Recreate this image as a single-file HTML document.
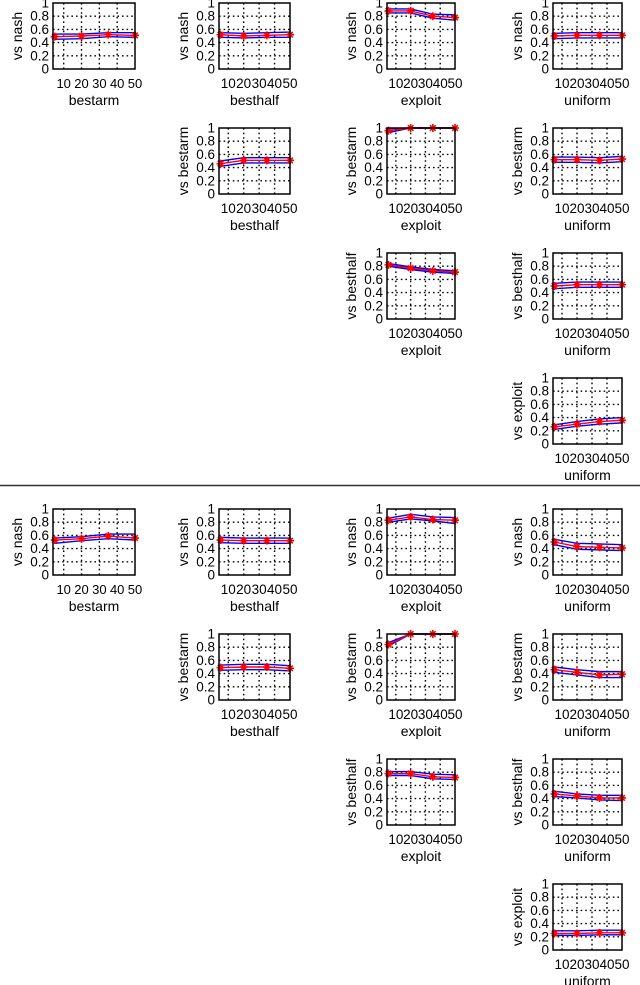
<!DOCTYPE html>
<html><head><meta charset="utf-8"><style>
html,body{margin:0;padding:0;background:#fff;}
svg{display:block;font-family:"Liberation Sans",sans-serif;}
</style></head><body>
<svg id="fig" width="640" height="985" viewBox="0 0 640 985">
<line x1="0" y1="485.5" x2="640" y2="485.5" stroke="#333" stroke-width="1.5"/>
</svg>
<script>
const xValues = [5, 20, 35, 50];
const xTicks = [10, 20, 30, 40, 50];
const yTicks = [0, 0.2, 0.4, 0.6, 0.8, 1];
const yTickLabels = ["0", "0.2", "0.4", "0.6", "0.8", "1"];
const opponents = ["nash", "bestarm", "besthalf", "exploit"];
const strategies = ["bestarm", "besthalf", "exploit", "uniform"];
const panelGroup = [0,0,0,0,0,0,0,0,0,0, 1,1,1,1,1,1,1,1,1,1];
const panelRow =   [0,0,0,0,1,1,1,2,2,3, 0,0,0,0,1,1,1,2,2,3];
const panelCol =   [0,1,2,3,1,2,3,2,3,3, 0,1,2,3,1,2,3,2,3,3];
const meanValues = [
 [0.49,0.50,0.52,0.51],[0.52,0.50,0.51,0.52],[0.88,0.88,0.80,0.78],[0.50,0.51,0.51,0.51],
 [0.46,0.51,0.51,0.51],[0.96,1,1,1],[0.52,0.52,0.51,0.53],
 [0.82,0.77,0.73,0.71],[0.50,0.52,0.52,0.52],[0.26,0.30,0.34,0.36],
 [0.53,0.55,0.59,0.56],[0.53,0.52,0.52,0.52],[0.83,0.88,0.84,0.83],[0.50,0.43,0.42,0.41],
 [0.49,0.50,0.50,0.48],[0.84,1,1,1],[0.46,0.42,0.38,0.39],
 [0.78,0.78,0.73,0.72],[0.47,0.44,0.41,0.41],[0.25,0.25,0.26,0.26]];
const upperValues = [
 [0.53,0.53,0.55,0.55],[0.55,0.54,0.55,0.56],[0.91,0.91,0.83,0.82],[0.54,0.55,0.55,0.55],
 [0.50,0.55,0.55,0.55],[0.99,1,1,1],[0.56,0.56,0.55,0.57],
 [0.84,0.79,0.75,0.73],[0.54,0.56,0.56,0.56],[0.29,0.34,0.38,0.40],
 [0.56,0.58,0.62,0.62],[0.57,0.56,0.56,0.56],[0.86,0.92,0.88,0.87],[0.54,0.48,0.47,0.46],
 [0.53,0.54,0.54,0.52],[0.87,1,1,1],[0.50,0.46,0.43,0.43],
 [0.81,0.81,0.77,0.76],[0.51,0.47,0.45,0.45],[0.29,0.29,0.30,0.30]];
const lowerValues = [
 [0.45,0.46,0.49,0.48],[0.48,0.47,0.48,0.48],[0.85,0.85,0.77,0.74],[0.46,0.47,0.47,0.47],
 [0.42,0.47,0.47,0.47],[0.93,1,1,1],[0.48,0.48,0.47,0.49],
 [0.80,0.75,0.71,0.69],[0.46,0.48,0.48,0.48],[0.22,0.27,0.30,0.32],
 [0.48,0.52,0.55,0.53],[0.49,0.48,0.48,0.48],[0.80,0.85,0.82,0.78],[0.46,0.39,0.38,0.37],
 [0.45,0.46,0.46,0.44],[0.82,1,1,1],[0.42,0.38,0.34,0.34],
 [0.75,0.75,0.70,0.69],[0.43,0.41,0.38,0.37],[0.22,0.22,0.23,0.23]];

const NS = "http://www.w3.org/2000/svg";
const svg = document.getElementById("fig");
const colLeft = [53, 219, 387, 553];
const colRight = [135, 290, 455, 622];
const rowTop = [3, 128, 253, 378];
const groupOffset = [0, 506];
const boxH = 66;
const xMin = 4, xMax = 50;

function mk(tag, attrs, parent) {
  const e = document.createElementNS(NS, tag);
  for (const k in attrs) e.setAttribute(k, attrs[k]);
  (parent || svg).appendChild(e);
  return e;
}

for (let i = 0; i < meanValues.length; i++) {
  const L = colLeft[panelCol[i]], R = colRight[panelCol[i]];
  const T = rowTop[panelRow[i]] + groupOffset[panelGroup[i]], B = T + boxH;
  const sx = v => L + (v - xMin) / (xMax - xMin) * (R - L);
  const sy = v => B - v * (B - T);
  const g = mk("g", {});
  
  
  mk("rect", {x: L, y: T, width: R - L, height: boxH, fill: "#fff"}, g);
  yTicks.forEach((t, k) => {
    if (t > 0 && t < 1) {
      const gl = mk("line", {x1: L, x2: R, y1: sy(t), y2: sy(t), stroke: "#000", "stroke-width": 1.4, "stroke-dasharray": "1.6,3"}, g);
      
      
    }
    const tl = mk("text", {x: L - 4, y: sy(t) + 4.5, "text-anchor": "end", "font-size": 13.5, fill: "#000"}, g);
    tl.textContent = yTickLabels[k];
    
    
  });
  xTicks.forEach(t => {
    if (t < xMax) {
      const gl = mk("line", {x1: sx(t), x2: sx(t), y1: T, y2: B, stroke: "#000", "stroke-width": 1.4, "stroke-dasharray": "1.6,3"}, g);
      
      
    }
    const tl = mk("text", {x: sx(t), y: B + 19, "text-anchor": "middle", "font-size": panelCol[i] ? 13.5 : 13, fill: "#000"}, g);
    tl.textContent = String(t);
    
    
  });
  const pts = arr => arr.map((v, k) => sx(xValues[k]) + "," + sy(v)).join(" ");
  const up = mk("polyline", {points: pts(upperValues[i]), fill: "none", stroke: "#0000ff", "stroke-width": 1.4}, g);
  
  
  const lo = mk("polyline", {points: pts(lowerValues[i]), fill: "none", stroke: "#0000ff", "stroke-width": 1.4}, g);
  
  
  const me = mk("polyline", {points: pts(meanValues[i]), fill: "none", stroke: "#ff0000", "stroke-width": 1.4}, g);
  
  
  meanValues[i].forEach((v, k) => {
    const cx = sx(xValues[k]), cy = sy(v), r = 4;
    const m = mk("path", {d: `M${cx-r},${cy}H${cx+r}M${cx},${cy-r}V${cy+r}M${cx-r*0.7},${cy-r*0.7}L${cx+r*0.7},${cy+r*0.7}M${cx-r*0.7},${cy+r*0.7}L${cx+r*0.7},${cy-r*0.7}`, stroke: "#ff0000", "stroke-width": 1.6, fill: "none"}, g);
    
    
  });
  const box = mk("rect", {x: L, y: T, width: R - L, height: boxH, fill: "none", stroke: "#000", "stroke-width": 1.5}, g);
  
  
  const yl = mk("text", {x: 0, y: 0, "text-anchor": "middle", "font-size": 14, fill: "#000", transform: `translate(${L - 31},${(T + B) / 2}) rotate(-90)`}, g);
  yl.textContent = "vs " + opponents[panelRow[i]];
  
  
  const xl = mk("text", {x: (L + R) / 2, y: B + 36, "text-anchor": "middle", "font-size": 14, fill: "#000"}, g);
  xl.textContent = strategies[panelCol[i]];
  
  
}
</script>
</body></html>
